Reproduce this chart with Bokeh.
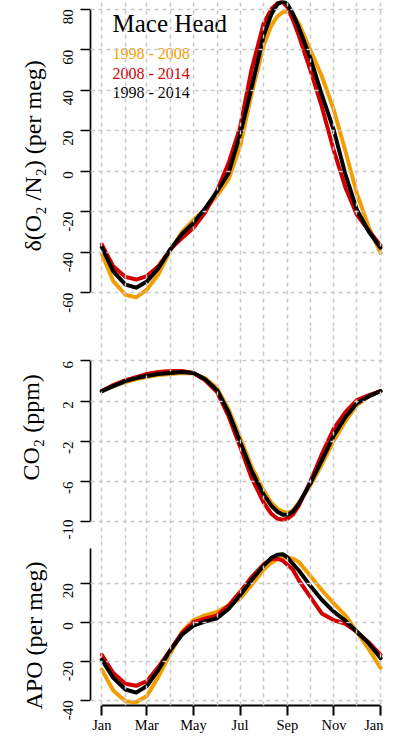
import math
from bokeh.plotting import figure
from bokeh.layouts import column
from bokeh.models import FixedTicker, Range1d, Label, Title
from bokeh.embed import file_html
from bokeh.resources import INLINE

# ---------------- data (day of year) ----------------
days = [0, 15, 31, 45, 59, 74, 90, 105, 120, 135, 151, 166, 181, 196, 212,
        222, 230, 237, 243, 250, 258, 273, 288, 304, 319, 334, 350, 365]
month_starts = [0, 31, 59, 90, 120, 151, 181, 212, 243, 273, 304, 334, 365]
tick_days = [0, 59, 120, 181, 243, 304, 365]
tick_labels = ["Jan", "Mar", "May", "Jul", "Sep", "Nov", "Jan"]
series_names = ["1998 - 2008", "2008 - 2014", "1998 - 2014"]
site_name = "Mace Head"

o2_9808 = [-40.8, -54.3, -61, -62.3, -58.5, -51, -39, -30, -24, -19, -12, -4, 12, 38, 62,
           72, 76.5, 78.5, 79, 77.5, 73, 60, 47, 30, 10, -11, -28, -40.3]
o2_0814 = [-36.2, -47, -52.2, -53.5, -51.8, -47, -38.5, -33, -28, -20.5, -9.5, 4, 21.5, 50, 73,
           80, 83, 83.5, 81, 75, 67, 50, 32, 10, -8, -21.5, -29.5, -36.7]
o2_9814 = [-37.5, -49.5, -56, -57.5, -54.5, -48, -38.5, -31, -25.5, -18.5, -10, -1, 18, 41, 67,
           77.5, 82.5, 84, 82.5, 78, 71, 56, 38, 20, -1.5, -19, -30, -37.8]

co2_9808 = [3.0, 3.5, 3.9, 4.2, 4.4, 4.6, 4.7, 4.8, 4.75, 4.3, 3.3, 1.2, -1.6, -4.5, -6.9,
            -8.1, -8.7, -9.0, -9.1, -8.9, -8.1, -6.4, -4.3, -1.9, 0.0, 1.6, 2.5, 3.0]
co2_0814 = [3.0, 3.6, 4.1, 4.4, 4.7, 4.9, 5.0, 5.0, 4.8, 4.1, 2.9, 0.5, -2.5, -5.6, -8.1,
            -9.2, -9.7, -9.8, -9.7, -9.3, -8.4, -6.0, -3.3, -0.7, 0.9, 2.1, 2.6, 3.0]
co2_9814 = [3.0, 3.5, 4.0, 4.3, 4.5, 4.7, 4.8, 4.9, 4.8, 4.2, 3.1, 0.9, -2.0, -4.9, -7.3,
            -8.4, -9.0, -9.3, -9.3, -9.0, -8.2, -6.2, -3.9, -1.4, 0.4, 1.8, 2.5, 3.0]

apo_9808 = [-24.3, -35, -40.5, -41, -37.8, -28, -16, -5, 1.0, 3.5, 5.3, 8.5, 12.0, 19, 27,
            30.5, 32.3, 33, 33.2, 32.6, 30.8, 23.8, 16.5, 9.5, 3.5, -4.9, -14, -23.4]
apo_0814 = [-16.7, -26, -31.5, -32.6, -30.2, -23, -14, -5.5, 0, 1.8, 3.5, 8.5, 15.4, 23, 29.7,
            32.2, 32.6, 31.5, 29.5, 27, 21.5, 13, 4.5, 1.0, -0.8, -4.9, -10.5, -16.7]
apo_9814 = [-19.2, -28.5, -34.5, -36.1, -32.7, -24.5, -14.2, -6.4, -1.8, 0.3, 2.0, 6.8, 13.7, 21.5, 29,
            33, 34.6, 34.8, 33.3, 30, 26.5, 18.7, 11.5, 5.3, 0.8, -4.9, -11, -18.4]

o2_ticks = [-60, -40, -20, 0, 20, 40, 60, 80]
co2_ticks = [-10, -6, -2, 2, 6]
apo_ticks = [-40, -20, 0, 20]

colors = ["#F29E00", "#D00000", "#000000"]
FONT = "Liberation Serif"
TITLE_FONT = "'Liberation Serif', 'DejaVu Serif', serif"
GRID_COLOR = "#C9C9C9"

xr = Range1d(-14.8, 368.9)


def make_panel(yr, yticks, ybounds, height, with_x, series, title, t_standoff, t_offset):
    p = figure(width=383, height=height, x_range=xr, y_range=yr, title=None,
               output_backend="svg", toolbar_location=None,
               x_axis_location="below" if with_x else None,
               min_border_left=90, min_border_right=0,
               min_border_top=0, min_border_bottom=0)
    p.outline_line_color = None
    p.background_fill_color = "white"
    p.border_fill_color = "white"

    ax = p.yaxis[0]
    ax.ticker = FixedTicker(ticks=yticks)
    ax.major_label_overrides = {t: str(t) for t in yticks}
    ax.bounds = ybounds
    ax.major_tick_out = 10
    ax.major_tick_in = 0
    ax.minor_tick_line_color = None
    ax.axis_line_width = 1.7
    ax.major_tick_line_width = 1.7
    ax.major_label_orientation = math.pi / 2
    ax.major_label_text_font = FONT
    ax.major_label_text_font_size = "15px"
    ax.major_label_text_color = "black"
    ax.major_label_standoff = 12

    # axis title: starts t_offset px above the frame bottom, reading upwards
    p.add_layout(Title(text=title, align="left", offset=t_offset, standoff=t_standoff,
                       text_font=TITLE_FONT, text_font_size="24px", text_font_style="normal",
                       text_color="black"), "left")

    p.xgrid.ticker = FixedTicker(ticks=month_starts)
    p.ygrid.ticker = FixedTicker(ticks=yticks)
    for g in (p.xgrid, p.ygrid):
        g.grid_line_color = GRID_COLOR
        g.grid_line_dash = "4 4"
        g.grid_line_width = 1.5
        g.level = "overlay"

    for vals, c in zip(series, colors):
        p.line(days, vals, line_color=c, line_width=4,
               line_join="round", line_cap="round")
    return p


p1 = make_panel(Range1d(-76.69, 84.30), o2_ticks, (-60, 80), 326, False,
                [o2_9808, o2_0814, o2_9814], "δ(O₂ /N₂) (per meg)", 20, 75)
p2 = make_panel(Range1d(-11.76, 9.43), co2_ticks, (-10, 6), 213, False,
                [co2_9808, co2_0814, co2_9814], "CO₂ (ppm)", 24, 59)
p3 = make_panel(Range1d(-42.68, 42.38), apo_ticks, (-40, 38), 196, True,
                [apo_9808, apo_0814, apo_9814], "APO (per meg)", 18, -4)

xa = p3.xaxis[0]
xa.ticker = FixedTicker(ticks=tick_days)
xa.major_label_overrides = {d: l for d, l in zip(tick_days, tick_labels)}
xa.bounds = (0, 365)
xa.major_tick_out = 10
xa.major_tick_in = 0
xa.minor_tick_line_color = None
xa.axis_line_width = 2
xa.major_tick_line_width = 2
xa.major_label_text_font = FONT
xa.major_label_text_font_size = "14.5px"
xa.major_label_text_color = "black"
xa.major_label_standoff = 1

# legend
p1.add_layout(Label(x=22, y=302.7, x_units="screen", y_units="screen", text=site_name,
                    text_font=FONT, text_font_size="25px", text_color="black",
                    text_baseline="alphabetic"))
for i, (nm, c) in enumerate(zip(series_names, colors)):
    p1.add_layout(Label(x=22, y=273 - 19.6 * i, x_units="screen", y_units="screen", text=nm,
                        text_font=FONT, text_font_size="16px", text_color=c,
                        text_baseline="alphabetic"))

layout = column(p1, p2, p3, spacing=0)
open("out.html", "w").write(file_html(layout, INLINE))
